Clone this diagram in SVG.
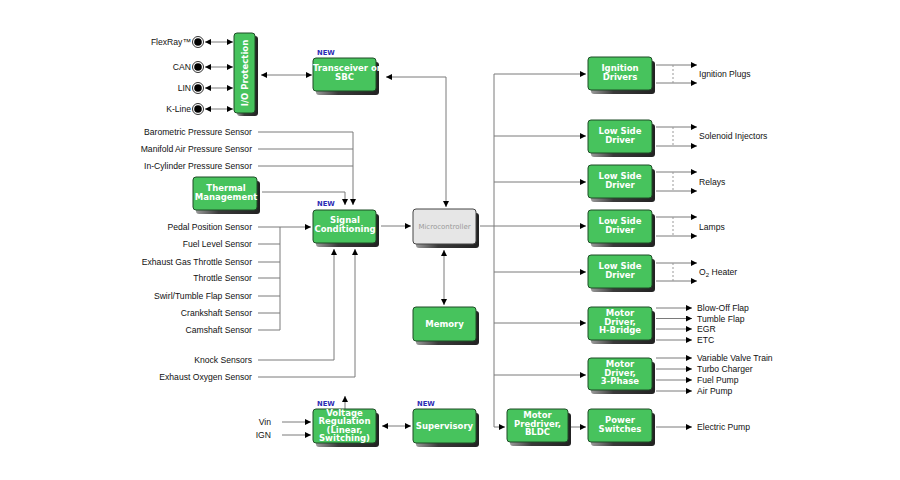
<svg xmlns="http://www.w3.org/2000/svg" width="900" height="480" viewBox="0 0 900 480">
<style>
.bx{fill:#47c35d;stroke:#1f4d27;stroke-width:1}
.mc{fill:#e6e6e6;stroke:#444;stroke-width:1}
.sh{fill:url(#shg)}
.bt{font-family:"DejaVu Sans",Verdana,sans-serif;font-weight:bold;font-size:8.5px;fill:#fff;text-anchor:middle}
.mt{font-family:"DejaVu Sans",Verdana,sans-serif;font-size:7px;fill:#9a9a9a;text-anchor:middle}
.lb{font-family:"Liberation Sans",Arial,sans-serif;font-size:8.6px;fill:#111}
.rl{text-anchor:end}
.nw{font-family:"DejaVu Sans",Verdana,sans-serif;font-weight:bold;font-size:6.8px;fill:#2b2bb5}
.ln{fill:none;stroke:#7a7a7a;stroke-width:1}
.a1{marker-end:url(#ah)}
.a2{marker-end:url(#ah);marker-start:url(#ah)}
.ds{stroke:#999;stroke-width:1;stroke-dasharray:2,2}
.po{fill:#fff;stroke:#333;stroke-width:1}
.pi{fill:#000}
</style>
<defs>
<linearGradient id="shg" x1="0" y1="0" x2="1" y2="0">
<stop offset="0" stop-color="#9a9a9a"/>
<stop offset="0.35" stop-color="#3a3a3a"/>
<stop offset="1" stop-color="#222"/>
</linearGradient>
<marker id="ah" viewBox="0 0 10 10" refX="10" refY="5" markerWidth="6" markerHeight="6" markerUnits="userSpaceOnUse" orient="auto-start-reverse">
<path d="M0,0 L10,5 L0,10 z" fill="#000"/>
</marker>
</defs>
<rect width="900" height="480" fill="#fff"/>

<g id="connectors">
<path class="ln a2" d="M205,42 H233"/>
<path class="ln a2" d="M205,67 H233"/>
<path class="ln a2" d="M205,88 H233"/>
<path class="ln a2" d="M205,109 H233"/>
<path class="ln a2" d="M261,75 H312"/>
<path class="ln a2" d="M386,77 H446 V207"/>
<path class="ln" d="M258,132 H353"/>
<path class="ln" d="M258,149 H353"/>
<path class="ln" d="M258,166 H353"/>
<path class="ln a1" d="M353,132 V205"/>
<path class="ln a1" d="M262,192 H345 V205"/>
<path class="ln a1" d="M258,227 H311"/>
<path class="ln" d="M280,227 V330"/>
<path class="ln" d="M258,244 H280 M258,262 H280 M258,278 H280 M258,296 H280 M258,313 H280 M258,330 H280"/>
<path class="ln a1" d="M258,360 H334 V249"/>
<path class="ln a1" d="M258,377 H355 V249"/>
<path class="ln a1" d="M381,226 H411"/>
<path class="ln a2" d="M444,250 V305"/>
<path class="ln a1" d="M480,226 H586"/>
<path class="ln" d="M494,74 V427"/>
<path class="ln a1" d="M494,74 H586"/>
<path class="ln a1" d="M494,136 H586"/>
<path class="ln a1" d="M494,182 H586"/>
<path class="ln a1" d="M494,272 H586"/>
<path class="ln a1" d="M494,323 H586"/>
<path class="ln a1" d="M494,375 H586"/>
<path class="ln a1" d="M494,427 H505"/>
<path class="ln a1" d="M571,427 H586"/>
<path class="ln a1" d="M656,65 H697"/>
<path class="ln a1" d="M656,83 H697"/>
<line class="ds" x1="673" y1="65" x2="673" y2="83"/>
<path class="ln a1" d="M656,127 H697"/>
<path class="ln a1" d="M656,146 H697"/>
<line class="ds" x1="673" y1="127" x2="673" y2="146"/>
<path class="ln a1" d="M656,172 H697"/>
<path class="ln a1" d="M656,191 H697"/>
<line class="ds" x1="673" y1="172" x2="673" y2="191"/>
<path class="ln a1" d="M656,217 H697"/>
<path class="ln a1" d="M656,236 H697"/>
<line class="ds" x1="673" y1="217" x2="673" y2="236"/>
<path class="ln a1" d="M656,263 H697"/>
<path class="ln a1" d="M656,281 H697"/>
<line class="ds" x1="673" y1="263" x2="673" y2="281"/>
<path class="ln a1" d="M656,308 H692"/>
<path class="ln a1" d="M656,318.5 H692"/>
<path class="ln a1" d="M656,329 H692"/>
<path class="ln a1" d="M656,340 H692"/>
<path class="ln a1" d="M656,358 H692"/>
<path class="ln a1" d="M656,369 H692"/>
<path class="ln a1" d="M656,380 H692"/>
<path class="ln a1" d="M656,391 H692"/>
<path class="ln a1" d="M656,427 H692"/>
<path class="ln a1" d="M282,422 H311"/>
<path class="ln a1" d="M282,435 H311"/>
<path class="ln a1" d="M345,409 V396"/>
<path class="ln a2" d="M382,426 H411"/>
</g>

<g id="ports">
<circle class="po" cx="198" cy="42" r="5.5"/><circle class="pi" cx="198" cy="42" r="3.8"/>
<circle class="po" cx="198" cy="67" r="5.5"/><circle class="pi" cx="198" cy="67" r="3.8"/>
<circle class="po" cx="198" cy="88" r="5.5"/><circle class="pi" cx="198" cy="88" r="3.8"/>
<circle class="po" cx="198" cy="109" r="5.5"/><circle class="pi" cx="198" cy="109" r="3.8"/>
<text class="lb rl" x="191" y="45">FlexRay™</text>
<text class="lb rl" x="191" y="70">CAN</text>
<text class="lb rl" x="191" y="91">LIN</text>
<text class="lb rl" x="191" y="112">K-Line</text>
</g>

<g id="sensors">
<text class="lb rl" x="252" y="135">Barometric Pressure Sensor</text>
<text class="lb rl" x="252" y="152">Manifold Air Pressure Sensor</text>
<text class="lb rl" x="252" y="169">In-Cylinder Pressure Sensor</text>
<text class="lb rl" x="252" y="230">Pedal Position Sensor</text>
<text class="lb rl" x="252" y="247">Fuel Level Sensor</text>
<text class="lb rl" x="252" y="265">Exhaust Gas Throttle Sensor</text>
<text class="lb rl" x="252" y="281">Throttle Sensor</text>
<text class="lb rl" x="252" y="299">Swirl/Tumble Flap Sensor</text>
<text class="lb rl" x="252" y="316">Crankshaft Sensor</text>
<text class="lb rl" x="252" y="333">Camshaft Sensor</text>
<text class="lb rl" x="252" y="363">Knock Sensors</text>
<text class="lb rl" x="252" y="380">Exhaust Oxygen Sensor</text>
<text class="lb rl" x="271" y="425">Vin</text>
<text class="lb rl" x="271" y="438">IGN</text>
</g>

<g id="io-protection">
<rect class="sh" x="237" y="36" width="21" height="80" rx="3"/>
<rect class="bx" x="234" y="33" width="21" height="80" rx="3"/>
<text class="bt" transform="translate(247.5,73) rotate(-90)">I/O Protection</text>
</g>

<g id="transceiver">
<text class="nw" x="317" y="55">NEW</text>
<rect class="sh" x="316" y="62" width="63" height="33" rx="3"/>
<rect class="bx" x="313" y="58" width="63" height="33" rx="3"/>
<text class="bt" x="347" y="71">Transceiver or<tspan x="344.5" dy="9">SBC</tspan></text>
</g>

<g id="thermal">
<rect class="sh" x="196" y="181" width="64" height="33" rx="3"/>
<rect class="bx" x="193" y="177" width="64" height="33" rx="3"/>
<text class="bt" x="226" y="191">Thermal<tspan x="226" dy="9">Management</tspan></text>
</g>

<g id="signal-conditioning">
<text class="nw" x="317" y="206">NEW</text>
<rect class="sh" x="316" y="214" width="63" height="33" rx="3"/>
<rect class="bx" x="313" y="210" width="63" height="33" rx="3"/>
<text class="bt" x="345" y="223">Signal<tspan x="345" dy="9">Conditioning</tspan></text>
</g>

<g id="microcontroller">
<rect class="sh" x="416" y="213" width="63" height="35" rx="3"/>
<rect class="mc" x="413" y="209" width="63" height="35" rx="3"/>
<text class="mt" x="444.5" y="229">Microcontroller</text>
</g>

<g id="memory">
<rect class="sh" x="416" y="311" width="63" height="34" rx="3"/>
<rect class="bx" x="413" y="307" width="63" height="34" rx="3"/>
<text class="bt" x="444.5" y="327">Memory</text>
</g>

<g id="voltage-regulation">
<text class="nw" x="317" y="406">NEW</text>
<rect class="sh" x="316" y="413" width="63" height="34" rx="3"/>
<rect class="bx" x="313" y="409" width="63" height="34" rx="3"/>
<text class="bt" x="344.5" y="416">Voltage<tspan x="344.5" dy="8.3">Regulation</tspan><tspan x="344.5" dy="8.3">(Linear,</tspan><tspan x="344.5" dy="8.3">Switching)</tspan></text>
</g>

<g id="supervisory">
<text class="nw" x="417" y="406">NEW</text>
<rect class="sh" x="416" y="413" width="63" height="34" rx="3"/>
<rect class="bx" x="413" y="409" width="63" height="34" rx="3"/>
<text class="bt" x="444.5" y="429">Supervisory</text>
</g>

<g id="ignition-drivers">
<rect class="sh" x="591" y="61" width="64" height="33" rx="3"/>
<rect class="bx" x="588" y="57" width="64" height="33" rx="3"/>
<text class="bt" x="620" y="71">Ignition<tspan x="620" dy="9">Drivers</tspan></text>
<text class="lb" x="699" y="77">Ignition Plugs</text>
</g>

<g id="lsd-injectors">
<rect class="sh" x="591" y="124" width="64" height="33" rx="3"/>
<rect class="bx" x="588" y="120" width="64" height="33" rx="3"/>
<text class="bt" x="620" y="134">Low Side<tspan x="620" dy="9">Driver</tspan></text>
<text class="lb" x="699" y="139">Solenoid Injectors</text>
</g>

<g id="lsd-relays">
<rect class="sh" x="591" y="169" width="64" height="33" rx="3"/>
<rect class="bx" x="588" y="165" width="64" height="33" rx="3"/>
<text class="bt" x="620" y="179">Low Side<tspan x="620" dy="9">Driver</tspan></text>
<text class="lb" x="699" y="185">Relays</text>
</g>

<g id="lsd-lamps">
<rect class="sh" x="591" y="214" width="64" height="33" rx="3"/>
<rect class="bx" x="588" y="210" width="64" height="33" rx="3"/>
<text class="bt" x="620" y="224">Low Side<tspan x="620" dy="9">Driver</tspan></text>
<text class="lb" x="699" y="230">Lamps</text>
</g>

<g id="lsd-heater">
<rect class="sh" x="591" y="259" width="64" height="33" rx="3"/>
<rect class="bx" x="588" y="255" width="64" height="33" rx="3"/>
<text class="bt" x="620" y="269">Low Side<tspan x="620" dy="9">Driver</tspan></text>
<text class="lb" x="699" y="275">O<tspan font-size="6" dy="2">2</tspan><tspan dy="-2"> Heater</tspan></text>
</g>

<g id="motor-hbridge">
<rect class="sh" x="591" y="311" width="64" height="33" rx="3"/>
<rect class="bx" x="588" y="307" width="64" height="33" rx="3"/>
<text class="bt" x="620" y="316">Motor<tspan x="620" dy="8.5">Driver,</tspan><tspan x="620" dy="8.5">H-Bridge</tspan></text>
<text class="lb" x="697" y="311">Blow-Off Flap</text>
<text class="lb" x="697" y="321.5">Tumble Flap</text>
<text class="lb" x="697" y="332">EGR</text>
<text class="lb" x="697" y="343">ETC</text>
</g>

<g id="motor-3phase">
<rect class="sh" x="591" y="362" width="64" height="32" rx="3"/>
<rect class="bx" x="588" y="358" width="64" height="32" rx="3"/>
<text class="bt" x="620" y="367">Motor<tspan x="620" dy="8.5">Driver,</tspan><tspan x="620" dy="8.5">3-Phase</tspan></text>
<text class="lb" x="697" y="361">Variable Valve Train</text>
<text class="lb" x="697" y="372">Turbo Charger</text>
<text class="lb" x="697" y="383">Fuel Pump</text>
<text class="lb" x="697" y="394">Air Pump</text>
</g>

<g id="motor-predriver">
<rect class="sh" x="510" y="413" width="61" height="33" rx="3"/>
<rect class="bx" x="507" y="409" width="61" height="33" rx="3"/>
<text class="bt" x="537.5" y="418">Motor<tspan x="537.5" dy="8.5">Predriver,</tspan><tspan x="537.5" dy="8.5">BLDC</tspan></text>
</g>

<g id="power-switches">
<rect class="sh" x="591" y="413" width="64" height="33" rx="3"/>
<rect class="bx" x="588" y="409" width="64" height="33" rx="3"/>
<text class="bt" x="620" y="423">Power<tspan x="620" dy="9">Switches</tspan></text>
<text class="lb" x="697" y="430">Electric Pump</text>
</g>
</svg>
